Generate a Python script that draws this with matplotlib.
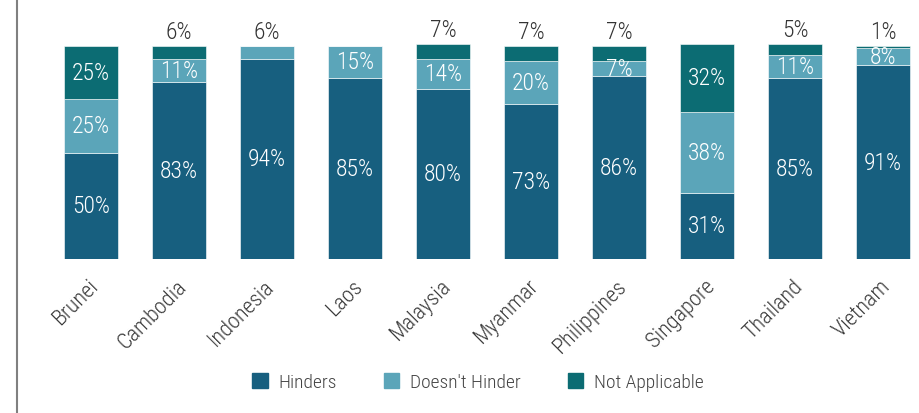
import matplotlib.pyplot as plt
import numpy as np
from matplotlib import font_manager
from matplotlib.patches import Patch
from matplotlib.lines import Line2D

countries = ['Brunei', 'Cambodia', 'Indonesia', 'Laos', 'Malaysia',
             'Myanmar', 'Philippines', 'Singapore', 'Thailand', 'Vietnam']
hinders = [50, 83, 94, 85, 80, 73, 86, 31, 85, 91]
doesnt_hinder = [25, 11, 6, 15, 14, 20, 7, 38, 11, 8]
not_applicable = [25, 6, 0, 0, 7, 7, 7, 32, 5, 1]
series_names = ['Hinders', "Doesn't Hinder", 'Not Applicable']
colors = ['#175f7f', '#5ba5b9', '#0c6c73']

# pick a narrow font if there is one
names = {f.name for f in font_manager.fontManager.ttflist}
family = 'DejaVu Sans'
for cand in ['Roboto Condensed', 'Liberation Sans Narrow', 'Open Sans Condensed']:
    if cand in names:
        family = cand
        break
plt.rcParams['font.family'] = [family, 'DejaVu Sans']
plt.rcParams['font.weight'] = 'light'

W, H = 919, 414
fig = plt.figure(figsize=(W / 100, H / 100), dpi=100)
px_per_unit = 213 / 100
ax = fig.add_axes([16 / W, 154 / H, 1 - 16 / W, 260 / H])
x = np.arange(len(countries))
ax.set_xlim(-75 / 88, (W - 91) / 88)
ax.set_ylim(0, 260 / px_per_unit)

series = [hinders, doesnt_hinder, not_applicable]
bottom = np.zeros(len(countries))
for vals, name, col in zip(series, series_names, colors):
    vals = np.array(vals, dtype=float)
    ax.bar(x, vals, 0.62, bottom=bottom, color=col, label=name,
           edgecolor='white', linewidth=0.4)
    bottom = bottom + vals

# value labels
for i in range(len(countries)):
    segs = [s[i] for s in series]
    top_idx = max(j for j in range(3) if segs[j] > 0)
    base = 0
    for j, v in enumerate(segs):
        if v == 0:
            continue
        if j == top_idx and v < 10:
            ax.text(i, sum(segs) + 1.2, f'{v}%', ha='center', va='bottom',
                    fontsize=17, color='#333333')
        else:
            ax.text(i, base + v / 2, f'{v}%', ha='center', va='center',
                    fontsize=17, color='white')
        base += v

ax.set_xticks(x + 0.05)
ax.set_xticklabels(countries, rotation=45, ha='right', va='center',
                   rotation_mode='anchor', fontsize=16, color='#3a3a3a')
ax.tick_params(axis='x', length=0, pad=17)
ax.set_yticks([])
for side in ['top', 'right', 'bottom', 'left']:
    ax.spines[side].set_visible(False)

# grey frame line on the left, full height
fig.add_artist(Line2D([16.5 / W, 16.5 / W], [0, 1], color='#808080',
                      linewidth=1.5, transform=fig.transFigure))

handles = [Patch(color=c) for c in colors]
fig.legend(handles, series_names, loc='center', ncol=3,
           bbox_to_anchor=(478 / W, 1 - 383 / H), frameon=False,
           fontsize=14, handlelength=0.8, handleheight=0.8,
           columnspacing=2.4, handletextpad=0.55,
           labelcolor='#444444')

fig.savefig('out.png', dpi=100)
